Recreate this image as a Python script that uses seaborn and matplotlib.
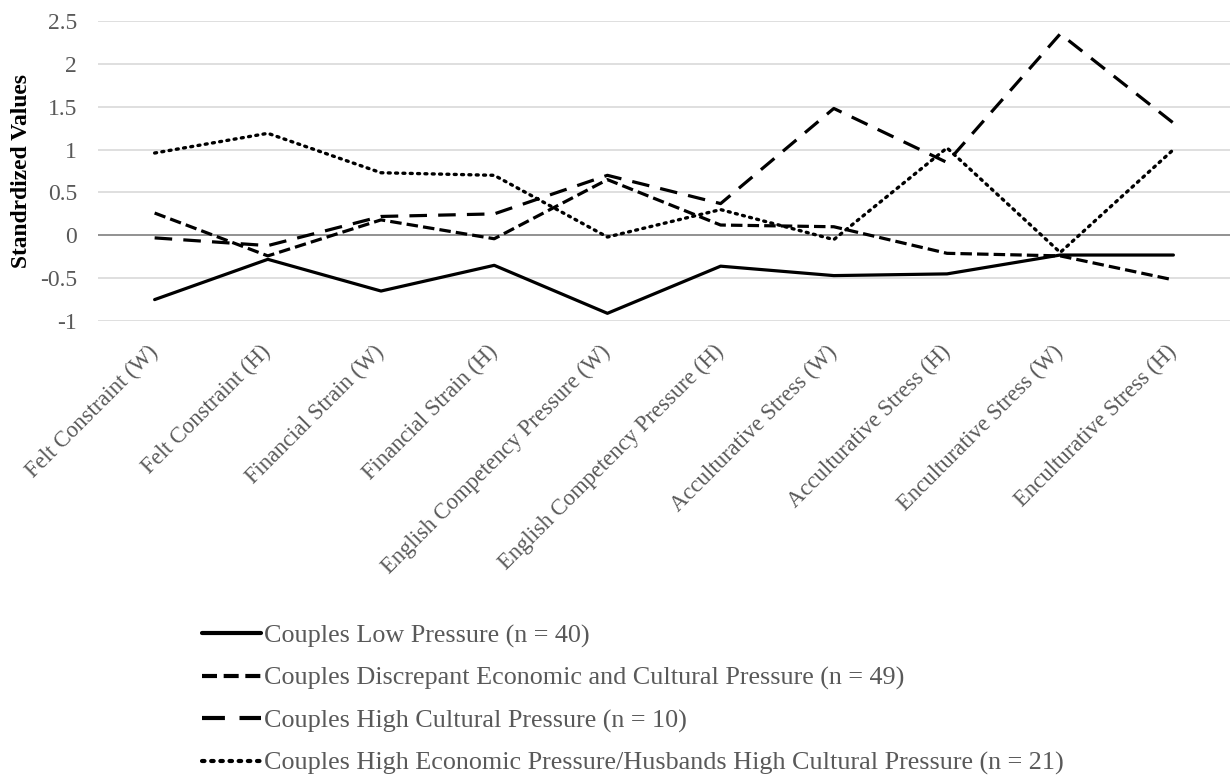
import matplotlib
matplotlib.use("Agg")
import matplotlib.pyplot as plt
import seaborn as sns
import pandas as pd
import numpy as np

categories = [
    "Felt Constraint (W)", "Felt Constraint (H)",
    "Financial Strain (W)", "Financial Strain (H)",
    "English Competency Pressure (W)", "English Competency Pressure (H)",
    "Acculturative Stress (W)", "Acculturative Stress (H)",
    "Enculturative Stress (W)", "Enculturative Stress (H)",
]
low_pressure = [-0.75, -0.28, -0.65, -0.35, -0.91, -0.36, -0.47, -0.45, -0.23, -0.23]
discrepant = [0.26, -0.24, 0.18, -0.04, 0.65, 0.12, 0.10, -0.21, -0.24, -0.52]
high_cultural = [-0.03, -0.12, 0.22, 0.25, 0.70, 0.37, 1.48, 0.85, 2.35, 1.31]
high_economic = [0.96, 1.19, 0.73, 0.70, -0.02, 0.30, -0.05, 1.02, -0.20, 1.00]

series_names = [
    "Couples Low Pressure (n = 40)",
    "Couples Discrepant Economic and Cultural Pressure (n = 49)",
    "Couples High Cultural Pressure (n = 10)",
    "Couples High Economic Pressure/Husbands High Cultural Pressure (n = 21)",
]
series_values = [low_pressure, discrepant, high_cultural, high_economic]
y_ticks = [-1, -0.5, 0, 0.5, 1, 1.5, 2, 2.5]
y_tick_labels = ["-1", "-0.5", "0", "0.5", "1", "1.5", "2", "2.5"]

sns.set_style("white")
plt.rcParams["font.family"] = ["Liberation Serif", "DejaVu Serif"]

fig = plt.figure(figsize=(12.3, 7.76), dpi=100)
ax = fig.add_axes([0.0797, 0.5863, 0.9203, 0.3866])

styles = [
    dict(linestyle="-", lw=2.3),
    dict(dashes=(3.6, 1.6), lw=2.3),
    dict(dashes=(5.5, 3.5), lw=2.3),
    dict(dashes=(0.6, 1.6), lw=2.4, dash_capstyle="round"),
]

xpos = np.arange(len(categories))
for name, vals, st in zip(series_names, series_values, styles):
    df = pd.DataFrame({"x": xpos, "y": vals})
    lw = st.pop("lw")
    sns.lineplot(data=df, x="x", y="y", ax=ax, color="black", linewidth=lw,
                 label=name, sort=False, clip_on=False, **st)

ax.set_xlim(-0.5, len(categories) - 0.5)
ax.set_ylim(-1, 2.5)
ax.set_yticks(y_ticks)
ax.set_yticklabels(y_tick_labels)
ax.yaxis.grid(True, color="#d9d9d9", linewidth=1.2)
ax.set_axisbelow(True)
ax.axhline(0, color="#868686", linewidth=1.2, zorder=1)
for s in ax.spines.values():
    s.set_visible(False)
ax.tick_params(axis="y", length=0, pad=15, labelsize=17, labelcolor="#595959")
ax.tick_params(axis="x", length=0, pad=20, labelsize=16.3, labelcolor="#595959")
ax.set_xticks(xpos)
ax.set_xticklabels(categories, rotation=45, ha="right", va="center", rotation_mode="anchor")
ax.set_xlabel("")
ax.set_ylabel("Standrdized Values", fontsize=16.9, fontweight="bold", color="black")
ax.yaxis.set_label_coords(-0.058, 0.5)

leg = ax.legend(loc="upper left", bbox_to_anchor=(0.083, -0.975), frameon=False,
                fontsize=18.8, handlelength=2.25, handletextpad=0.12,
                labelspacing=0.72, borderaxespad=0)
for t in leg.get_texts():
    t.set_color("#595959")
for h in leg.get_lines():
    h.set_linewidth(3.0)

fig.savefig("out.png", dpi=100)
